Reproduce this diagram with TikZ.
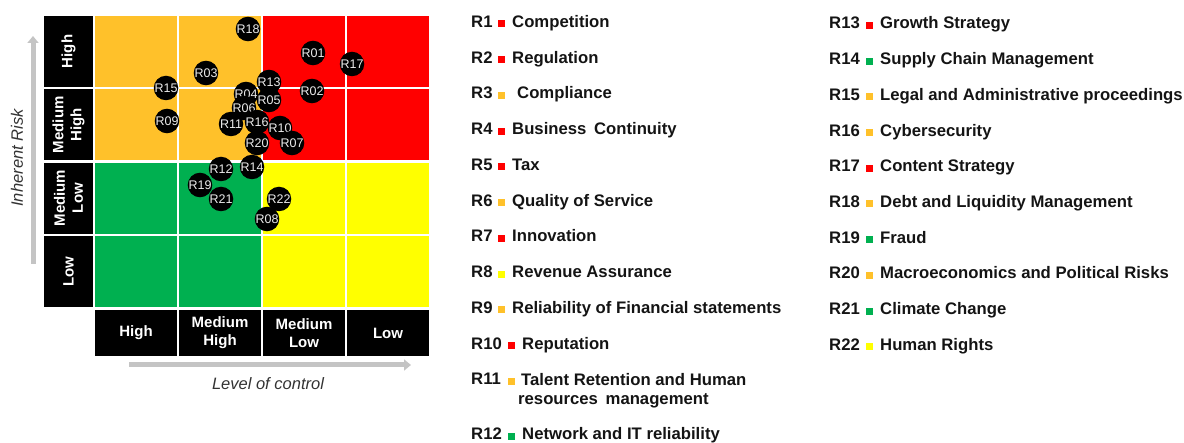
\documentclass[tikz,border=0pt]{standalone}
\usepackage{fontspec}
\setmainfont{Liberation Sans}
\usetikzlibrary{arrows.meta}
\definecolor{riskorange}{HTML}{FFC12A}
\definecolor{riskred}{HTML}{FF0000}
\definecolor{riskgreen}{HTML}{00B050}
\definecolor{riskyellow}{HTML}{FFFF00}
\definecolor{axisgray}{HTML}{C4C4C4}
\definecolor{labelgray}{HTML}{333333}
\definecolor{legendtext}{HTML}{141414}
\begin{document}
\begin{tikzpicture}[x=1pt,y=-1pt,
  cell/.style={rectangle,inner sep=0pt,minimum width=82pt,minimum height=71pt},
  rowlab/.style={rectangle,fill=black,inner sep=0pt,minimum width=71pt,minimum height=49pt,
    rotate=90,text=white,align=center,font=\fontsize{15}{18}\selectfont\bfseries},
  collab/.style={rectangle,fill=black,inner sep=0pt,minimum width=82pt,minimum height=46pt,
    text=white,align=center,font=\fontsize{15}{18}\selectfont\bfseries},
  bubble/.style={circle,fill=black,inner sep=0pt,minimum size=24.5pt,
    text=white!92!black,font=\fontsize{12.5}{13}\selectfont},
  axisarrow/.style={draw=axisgray,line width=5pt,-{Triangle[width=11pt,length=7pt]}},
  axislab/.style={inner sep=0pt,text=labelgray,font=\fontsize{16.5}{18}\selectfont\itshape},
  legid/.style={anchor=base west,inner sep=0pt,text=legendtext,font=\fontsize{16.7}{20}\selectfont\bfseries},
  legtxt/.style={anchor=base west,inner sep=0pt,text=legendtext,align=left,font=\fontsize{16.7}{20}\selectfont\bfseries},
  legsq/.style={rectangle,inner sep=0pt,minimum size=7pt}
]
\useasboundingbox (0,0) rectangle (1184,443);

% risk matrix cells
\foreach \r/\ry/\ca/\cb in {1/51.5/riskorange/riskred,2/124.8/riskorange/riskred,
                            3/198.1/riskgreen/riskyellow,4/271.4/riskgreen/riskyellow}{
  \node[cell,fill=\ca] (c\r-1) at (136,\ry) {};
  \node[cell,fill=\ca] (c\r-2) at (220,\ry) {};
  \node[cell,fill=\cb] (c\r-3) at (304,\ry) {};
  \node[cell,fill=\cb] (c\r-4) at (388,\ry) {};
}

% row headers (inherent risk)
\node[rowlab] (rl1) at (68.5,51.5)  {High};
\node[rowlab] (rl2) at (68.5,124.8) {Medium\\High};
\node[rowlab] (rl3) at (68.5,198.1) {Medium\\Low};
\node[rowlab] (rl4) at (68.5,271.4) {Low};

% column headers (level of control)
\node[collab] (cl1) at (136,333) {High};
\node[collab] (cl2) at (220,333) {Medium\\High};
\node[collab] (cl3) at (304,333) {Medium\\Low};
\node[collab] (cl4) at (388,333) {Low};

% axis arrows and titles
\coordinate (ya0) at (33,264);
\coordinate (ya1) at (33,36);
\coordinate (xa0) at (129,365);
\coordinate (xa1) at (411,365);
\draw[axisarrow] (ya0) -- (ya1);
\draw[axisarrow] (xa0) -- (xa1);
\node[axislab,rotate=90] (ylab) at (17,158) {Inherent Risk};
\node[axislab] (xlab) at (268,384) {Level of control};

% risk bubbles
\foreach \n/\bx/\by in {R18/248/29,R01/313/53,R17/352/64,R03/206/73,R15/166/88,
  R13/269/82,R02/312/91,R04/246/94,R05/269/100,R06/244/108,R09/167/121,
  R11/231/124,R16/257/122,R10/280/128,R07/292/143,R20/257/143,R14/252/167,
  R12/221/169,R19/200/185,R21/221/199,R22/279/199,R08/267/219}{
  \node[bubble] (b\n) at (\bx,\by) {\n};
}

% legend, first column
\foreach \k/\y/\col/\xs/\xt/\txt in {
  1/21.5/riskred/498/512/Competition,
  2/57.3/riskred/498/512/Regulation,
  3/93/riskorange/498/517/Compliance,
  4/128.8/riskred/498/512/Business\hspace{3pt} Continuity,
  5/164.5/riskred/498/512/Tax,
  6/200.3/riskorange/498/512/Quality of Service,
  7/236/riskred/498/512/Innovation,
  8/271.8/riskyellow/498/512/Revenue Assurance,
  9/307.5/riskorange/498/512/Reliability of Financial statements,
  10/343.3/riskred/508/522/Reputation,
  12/434/riskgreen/508/522/Network and IT reliability}{
  \node[legid] (id\k) at (471,\y+6) {R\k};
  \node[legsq,fill=\col] (sq\k) at (\xs+3.5,\y+2.5) {};
  \node[legtxt] (lt\k) at (\xt,\y+6) {\txt};
}
\node[legid] (id11) at (471,385) {R11};
\node[legsq,fill=riskorange] (sq11) at (511.5,381.5) {};
\node[legtxt,anchor=north west] (lt11) at (521,373)
  {Talent Retention and Human\\[-1pt]\hspace{-3pt}resources\hspace{3pt} management};

% legend, second column
\foreach \k/\y/\col/\txt in {
  13/23/riskred/Growth Strategy,
  14/58.7/riskgreen/Supply Chain Management,
  15/94.4/riskorange/Legal and Administrative proceedings,
  16/130.1/riskorange/Cybersecurity,
  17/165.8/riskred/Content Strategy,
  18/201.5/riskorange/Debt and Liquidity Management,
  19/237.2/riskgreen/Fraud,
  20/272.9/riskorange/Macroeconomics and Political Risks,
  21/308.6/riskgreen/Climate Change,
  22/344.3/riskyellow/Human Rights}{
  \node[legid] (id\k) at (829,\y+6) {R\k};
  \node[legsq,fill=\col] (sq\k) at (869.5,\y+2.5) {};
  \node[legtxt] (lt\k) at (880,\y+6) {\txt};
}
\end{tikzpicture}
\end{document}
